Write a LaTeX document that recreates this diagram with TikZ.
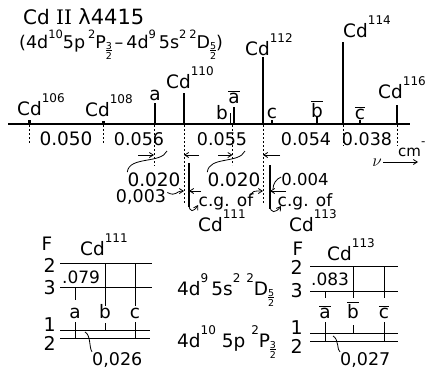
\documentclass[tikz,border=0pt]{standalone}
\usepackage{fontspec}
\setmainfont{DejaVu Sans}
\newfontfamily\serifII{DejaVu Serif}
\usetikzlibrary{arrows.meta}
\newcommand\Sp[1]{\raisebox{0.68em}{\fontsize{12}{12}\selectfont #1}}
\newcommand\Sq[1]{\raisebox{0.55em}{\fontsize{11.5}{11.5}\selectfont #1}}
\newcommand\Hf[1]{\raisebox{-11pt}{\fontsize{9.5}{9.5}\selectfont\vbox{\hbox to 0.62em{\hss#1\hss}\kern0.6pt\hrule height 0.8pt\kern1.2pt\hbox to 0.62em{\hss 2\hss}}}}
\newcommand\Ov[1]{$\overline{\mbox{#1}}$}
\begin{document}
\begin{tikzpicture}[x=1pt,y=-1pt,
  lab/.style={inner sep=0pt,font=\fontsize{18.5}{18.5}\selectfont},
  num/.style={inner sep=0pt,font=\fontsize{17.5}{17.5}\selectfont},
  lvlnum/.style={inner sep=0pt,font=\fontsize{19}{19}\selectfont,anchor=east},
  spec/.style={line width=2.6pt},
  lvl/.style={line width=0.9pt},
  dsh/.style={dash pattern=on 2.2pt off 1.8pt,line width=0.8pt},
  arr/.style={-{Straight Barb[length=4pt,width=5pt]},line width=0.8pt},
  crv/.style={line width=0.8pt}]
\useasboundingbox (0,0) rectangle (430,370);
% title
\node[lab,anchor=base west,font=\fontsize{20}{20}\selectfont] (t1) at (23,24) {Cd {\serifII II} {\fontsize{21}{21}\selectfont λ4415}};
\node[lab,anchor=base west,font=\fontsize{17.5}{17.5}\selectfont] (t2) at (19,48) {(4d\Sq{10}5p\,\Sq{2}P\Hf{3}\,–\,4d\Sq{9}\,5s\Sq{2}\,\Sq{2}D\Hf{5})};
% axis
\draw[line width=1.3pt] (8,124) -- (410,124);
% spectral lines
\fill (27.5,120) rectangle (30.5,123.5);
\fill (102,121) rectangle (104.5,123.5);
\draw[spec] (155,103) -- (155,124);
\draw[spec] (184,93) -- (184,124);
\draw[line width=1.6pt] (230.5,113) -- (230.5,124);
\draw[line width=1.6pt] (234,107) -- (234,124);
\draw[spec] (263,57) -- (263,124);
\draw[line width=1.6pt] (272,120) -- (272,124);
\draw[line width=1.6pt] (317,117) -- (317,124);
\draw[spec] (343,42) -- (343,124);
\draw[line width=1.6pt] (360,120) -- (360,124);
\draw[spec] (397,105) -- (397,124);
% line labels
\node[lab,anchor=base west] (l106) at (17,115) {Cd\Sp{106}};
\node[lab,anchor=base west] (l108) at (85,116) {Cd\Sp{108}};
\node[lab,anchor=base] (la) at (155,100) {a};
\node[lab,anchor=base west] (l110) at (166,88) {Cd\Sp{110}};
\node[lab,anchor=base] (lb) at (222,119) {b};
\node[lab,anchor=base] (lab) at (234,103) {\Ov{a}};
\node[lab,anchor=base west] (l112) at (245,55) {Cd\Sp{112}};
\node[lab,anchor=base] (lc) at (272,118) {c};
\node[lab,anchor=base] (lbb) at (317,117) {\Ov{b}};
\node[lab,anchor=base west] (l114) at (343,37) {Cd\Sp{114}};
\node[lab,anchor=base] (lcb) at (360,119) {\Ov{c}};
\node[lab,anchor=base west] (l116) at (378,98) {Cd\Sp{116}};
% dashed drops
\draw[dsh] (29,125) -- (29,143);
\draw[dsh] (103,125) -- (103,143);
\draw[dsh] (154,125) -- (154,166);
\draw[dsh] (184,125) -- (184,204);
\draw[dsh] (232.5,125) -- (232.5,165);
\draw[dsh] (263,125) -- (263,204);
\draw[dsh] (343,125) -- (343,146);
\draw[dsh] (397,125) -- (397,146);
% spacings
\node[num,anchor=base,font=\fontsize{18.5}{18.5}\selectfont] (n1) at (66,145) {0.050};
\node[num,anchor=base] (n2) at (139,145) {0.056};
\node[num,anchor=base] (n3) at (222,145) {0.055};
\node[num,anchor=base] (n4) at (306,145) {0.054};
\node[num,anchor=base] (n5) at (367,145) {0.038};
% cm^-1 and nu
\node[lab,anchor=base west,font=\fontsize{15}{15}\selectfont] (cm) at (398,156) {cm\Sp{-}};
\node[lab,anchor=base] (nu) at (377,166) {$\nu$};
\coordinate (nuend) at (418,162);
\draw[arr] (383,162) -- (nuend);
% arrows into lines
\coordinate (pa) at (154,155);
\coordinate (p110) at (184,155);
\coordinate (pab) at (232.5,155);
\coordinate (p112) at (263,155);
\draw[arr] (138,155) -- (pa);
\draw[arr] (199,155) -- (p110);
\draw[arr] (218,155) -- (pab);
\draw[arr] (280,155) -- (p112);
% 0.020 labels and curves
\node[num,anchor=base,font=\fontsize{18.5}{18.5}\selectfont] (d1) at (154,186) {0.020};
\node[num,anchor=base,font=\fontsize{18.5}{18.5}\selectfont] (d2) at (234,186) {0.020};
\draw[crv] (167,151) .. controls (161,164) and (129,156) .. (d1.north west);
\draw[crv] (245,151) .. controls (239,164) and (209,156) .. (d2.north west);
% c.g. lines
\draw[line width=1.2pt] (189,163) -- (189,207);
\draw[line width=1.2pt] (270,165) -- (270,209);
\node[num,anchor=base] (d3) at (141,202) {0,003};
\node[num,anchor=base,font=\fontsize{16.5}{16.5}\selectfont] (d4) at (305,185) {0.004};
\coordinate (q110) at (184,191);
\coordinate (qcg1) at (189,191);
\coordinate (q112) at (263,191);
\coordinate (qcg3) at (270,191);
\draw[arr] (d3.east) ++(1,-4) .. controls (177,197) and (175,191) .. (q110);
\draw[arr] (201,191) -- (qcg1);
\draw[arr] (251,195) .. controls (253,191) .. (q112);
\draw[crv] (d4.west) ++(0,-2) .. controls (276,179) and (273,184) .. (273,189);
\draw[arr] (286,191) -- (qcg3);
\node[lab,anchor=base,font=\fontsize{17}{17}\selectfont] (cg1) at (226,206) {c.g. of};
\node[lab,anchor=base,font=\fontsize{17}{17}\selectfont] (cg3) at (305,206) {c.g. of};
\node[lab,anchor=base west] (c111) at (198,231) {Cd\Sp{111}};
\node[lab,anchor=base west] (c113) at (289,231) {Cd\Sp{113}};
\draw[arr] (189,204) .. controls (189,213) and (194,212) .. (198,205);
\draw[arr] (270,205) .. controls (270,214) and (276,213) .. (281,206);
% ---- Cd111 level diagram
\node[lab,anchor=base] (F1) at (47,250) {F};
\node[lab,anchor=base west] (h111) at (80,255) {Cd\Sp{111}};
\coordinate (A2l) at (60,263); \coordinate (A2r) at (152,263);
\coordinate (A3l) at (60,287); \coordinate (A3r) at (152,287);
\coordinate (B1l) at (60,330); \coordinate (B1r) at (150,330);
\coordinate (B2l) at (60,338); \coordinate (B2r) at (150,338);
\draw[lvl] (A2l) -- (A2r); \draw[lvl] (A3l) -- (A3r);
\draw[lvl] (B1l) -- (B1r); \draw[lvl] (B2l) -- (B2r);
\node[lvlnum] (fa2) at (56,265) {2};
\node[lvlnum] (fa3) at (56,288) {3};
\node[lvlnum] (fb1) at (56,325) {1};
\node[lvlnum] (fb2) at (56,343) {2};
\node[num,anchor=base west,font=\fontsize{17}{17}\selectfont] (v079) at (62,283) {.079};
\node[lab,anchor=base] (ba) at (75,318) {a};
\node[lab,anchor=base] (bb) at (105,318) {b};
\node[lab,anchor=base] (bc) at (135,318) {c};
\draw[lvl] (75,287) -- (75,300); \draw[lvl] (75,322) -- (75,338);
\draw[lvl] (105,263) -- (105,306); \draw[lvl] (105,323) -- (105,330);
\draw[lvl] (135,263) -- (135,306); \draw[lvl] (135,322) -- (135,338);
\node[num,anchor=base west] (v026) at (92,365) {0,026};
\draw[crv] (85,332) .. controls (91,335) and (89,348) .. (v026.north west);
% ---- middle terms
\node[lab,anchor=base west] (termD) at (177,295) {4d\Sp{9}\,5s\Sp{2}\ \Sp{2}D\Hf{5}};
\node[lab,anchor=base west] (termP) at (177,347) {4d\Sp{10}\ 5p\ \Sp{2}P\Hf{3}};
% ---- Cd113 level diagram
\node[lab,anchor=base] (F3) at (298,255) {F};
\node[lab,anchor=base west] (h113) at (327,260) {Cd\Sp{113}};
\coordinate (C2l) at (310,266); \coordinate (C2r) at (398,266);
\coordinate (C3l) at (310,291); \coordinate (C3r) at (398,291);
\coordinate (D1l) at (310,333); \coordinate (D1r) at (398,333);
\coordinate (D2l) at (310,341); \coordinate (D2r) at (398,341);
\draw[lvl] (C2l) -- (C2r); \draw[lvl] (C3l) -- (C3r);
\draw[lvl] (D1l) -- (D1r); \draw[lvl] (D2l) -- (D2r);
\node[lvlnum] (fc2) at (303,267) {2};
\node[lvlnum] (fc3) at (303,291) {3};
\node[lvlnum] (fd1) at (303,328) {1};
\node[lvlnum] (fd2) at (303,346) {2};
\node[num,anchor=base west,font=\fontsize{17}{17}\selectfont] (v083) at (311,285) {.083};
\node[lab,anchor=base] (da) at (325,318) {\Ov{a}};
\node[lab,anchor=base] (db) at (353,318) {\Ov{b}};
\node[lab,anchor=base] (dc) at (384,318) {\Ov{c}};
\draw[lvl] (325,291) -- (325,298); \draw[lvl] (325,322) -- (325,341);
\draw[lvl] (353,266) -- (353,298); \draw[lvl] (353,325) -- (353,333);
\draw[lvl] (384,266) -- (384,298); \draw[lvl] (384,322) -- (384,341);
\node[num,anchor=base west] (v027) at (340,365) {0,027};
\draw[crv] (333,336) .. controls (339,339) and (337,351) .. (v027.north west);
\end{tikzpicture}
\end{document}
